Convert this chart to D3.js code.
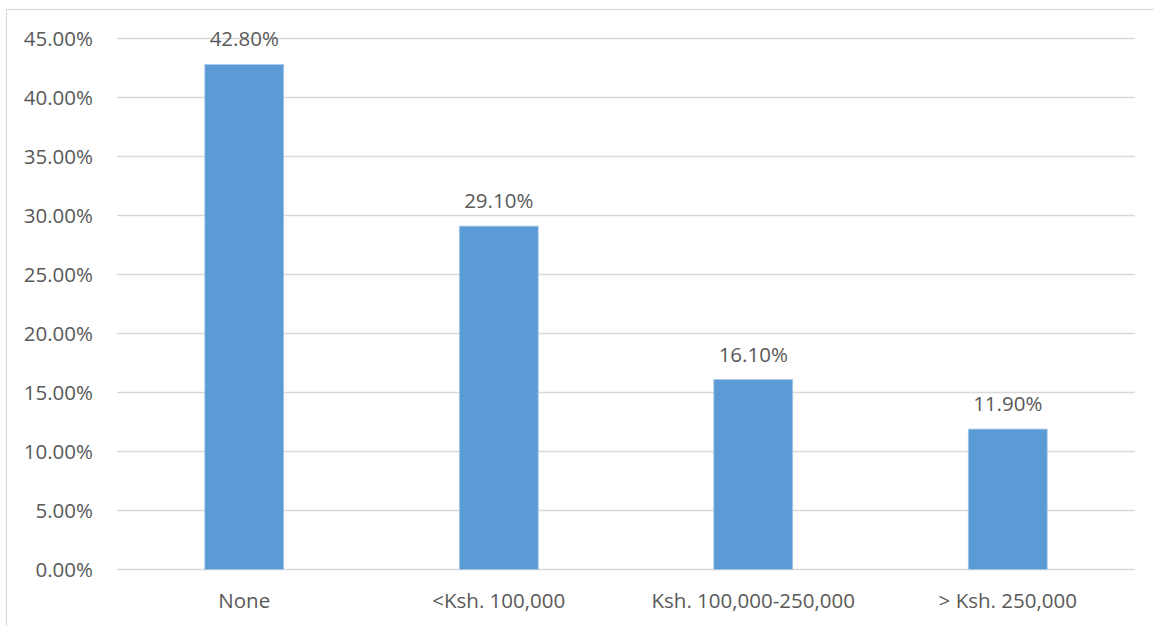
<!DOCTYPE html>
<html>
<head>
<meta charset="utf-8">
<script src="https://cdn.jsdelivr.net/npm/d3@7"></script>
<style>
  html, body { margin: 0; padding: 0; background: #fff; }
  svg { display: block; }
  text { font-family: "Open Sans", Lato, sans-serif; fill: #595959; }
</style>
</head>
<body>
<svg id="chart" width="1154" height="626"></svg>
<script>
// Loan amounts received by respondents
const categories = ["None", "<Ksh. 100,000", "Ksh. 100,000-250,000", "> Ksh. 250,000"];
const shares = [42.8, 29.1, 16.1, 11.9];
const yTicks = [0, 5, 10, 15, 20, 25, 30, 35, 40, 45];

const svg = d3.select("#chart");
const W = 1154, H = 626;
const plot = { left: 117, right: 1135, top: 38.5, bottom: 569.5 };

// outer chart frame (extends beyond the page on the right and bottom)
svg.append("rect")
  .attr("x", 6.5).attr("y", 9.5)
  .attr("width", W + 10).attr("height", H + 10)
  .attr("fill", "none").attr("stroke", "#d9d9d9").attr("stroke-width", 1.2);

const x = d3.scaleBand()
  .domain(categories)
  .range([plot.left, plot.right])
  .paddingInner(0.69)
  .paddingOuter(0.345);

const y = d3.scaleLinear()
  .domain([0, 45])
  .range([plot.bottom, plot.top]);

// horizontal gridlines
svg.append("g")
  .selectAll("line")
  .data(yTicks)
  .join("line")
  .attr("x1", plot.left).attr("x2", plot.right)
  .attr("y1", d => y(d)).attr("y2", d => y(d))
  .attr("stroke", "#d9d9d9").attr("stroke-width", 1.3);

// y axis labels
const yAxis = d3.axisLeft(y)
  .tickValues(yTicks)
  .tickSize(0)
  .tickPadding(0)
  .tickFormat(d => d.toFixed(2) + "%");
const gy = svg.append("g")
  .attr("transform", `translate(${plot.left - 24},0)`)
  .call(yAxis);
gy.select(".domain").remove();
gy.selectAll("text")
  .attr("font-size", 20.5)
  .attr("fill", "#595959")
  .attr("dy", "0.36em")
  .style("font-family", '"Open Sans", Lato, sans-serif');

// x axis labels
const xAxis = d3.axisBottom(x).tickSize(0).tickPadding(0);
const gx = svg.append("g")
  .attr("transform", `translate(0,${plot.bottom})`)
  .call(xAxis);
gx.select(".domain").remove();
gx.selectAll("text")
  .attr("font-size", 20.5)
  .attr("fill", "#595959")
  .attr("y", 38.5)
  .attr("dy", 0)
  .style("font-family", '"Open Sans", Lato, sans-serif');

// bars
svg.append("g")
  .selectAll("rect")
  .data(shares)
  .join("rect")
  .attr("x", (d, i) => x(categories[i]))
  .attr("width", x.bandwidth())
  .attr("y", d => y(d))
  .attr("height", d => y(0) - y(d))
  .attr("fill", "#5b9bd5")
  .attr("stroke", "#a9c8e8")
  .attr("stroke-width", 0.8);

// value labels
svg.append("g")
  .selectAll("text")
  .data(shares)
  .join("text")
  .attr("x", (d, i) => x(categories[i]) + x.bandwidth() / 2)
  .attr("y", d => y(d) - 18)
  .attr("text-anchor", "middle")
  .attr("font-size", 20.5)
  .attr("fill", "#404040")
  .text(d => d.toFixed(2) + "%");
</script>
</body>
</html>
